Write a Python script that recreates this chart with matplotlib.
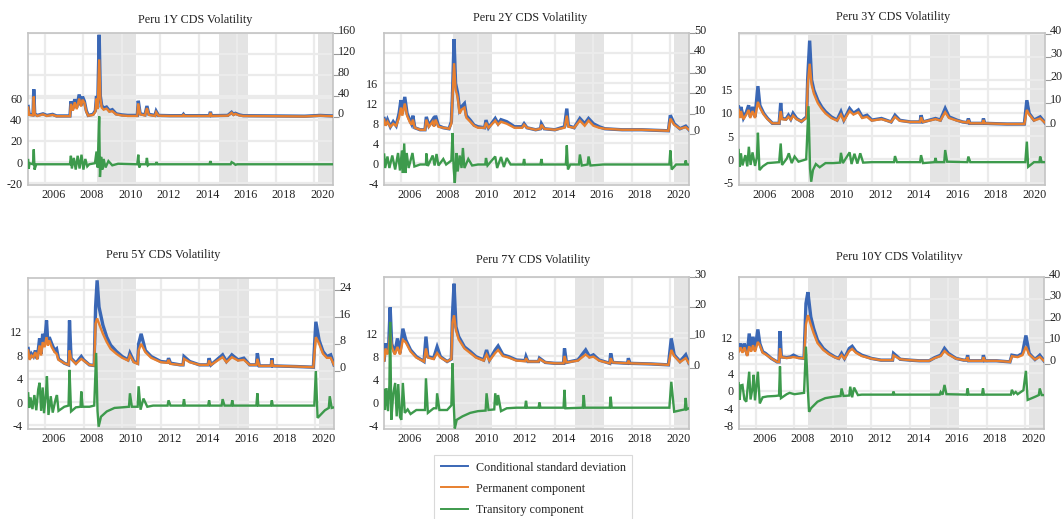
import matplotlib
matplotlib.use('Agg')
import matplotlib.pyplot as plt
from matplotlib.transforms import blended_transform_factory
from matplotlib.lines import Line2D

plt.rcParams['font.family'] = ['Liberation Serif', 'DejaVu Serif']
plt.rcParams['axes.unicode_minus'] = False

# ---------------- data ----------------
TITLES = ['Peru 1Y CDS Volatility', 'Peru 2Y CDS Volatility', 'Peru 3Y CDS Volatility',
          'Peru 5Y CDS Volatility', 'Peru 7Y CDS Volatility', 'Peru 10Y CDS Volatilityv']
SERIES = ['Conditional standard deviation', 'Permanent component', 'Transitory component']
YEAR_LABELS = [2006, 2008, 2010, 2012, 2014, 2016, 2018, 2020]
SHADES = [(2008.68, 2010.71), (2015.02, 2016.55), (2020.18, 2021.5)]
XLIM = (2005.12, 2020.97)

# (time, conditional sd, permanent component) -> right axis
P1_BO = [(2005.13, 20, 18), (2005.18, 5, 4), (2005.38, 4, 3), (2005.42, 53, 39), (2005.47, 6, 5),
         (2005.6, 3, 2), (2005.9, 6, 5), (2006.1, 3, 2), (2006.4, 5, 4), (2006.6, 2, 1.5),
         (2007.3, 2, 1.5), (2007.35, 30, 25), (2007.45, 15, 12), (2007.55, 34, 28), (2007.65, 18, 15),
         (2007.78, 43, 35), (2007.88, 22, 20), (2007.95, 39, 33), (2008.05, 30, 27), (2008.15, 12, 10),
         (2008.25, 3, 2.5), (2008.5, 5, 4), (2008.62, 12, 10), (2008.68, 40, 35), (2008.74, 18, 15),
         (2008.82, 157, 110), (2008.88, 40, 35), (2008.95, 22, 18), (2009.05, 17, 14), (2009.2, 19, 16),
         (2009.35, 12, 10), (2009.5, 14, 11), (2009.7, 6, 5), (2010.0, 4, 3), (2010.3, 3, 2),
         (2010.8, 3, 2), (2010.85, 31, 26), (2010.95, 6, 5), (2011.2, 4, 3), (2011.3, 21, 17),
         (2011.4, 5, 4), (2011.72, 3, 2), (2011.78, 11, 9), (2011.9, 3, 2.5), (2012.5, 2.5, 2),
         (2013.15, 2.5, 2), (2013.2, 5, 4), (2013.25, 2.5, 2), (2014.55, 2.5, 2), (2014.6, 10, 8),
         (2014.65, 2.5, 2), (2015.5, 3, 2.5), (2015.6, 6, 5), (2015.7, 9, 8), (2015.8, 5, 4),
         (2015.9, 7, 6), (2016.1, 4, 3), (2016.3, 2.5, 2), (2018.0, 2, 1.5), (2019.5, 1.5, 1),
         (2020.3, 3, 2.5), (2020.6, 2.5, 2), (2020.97, 2, 1.5)]
# (time, transitory component) -> left axis
P1_TR = [(2005.13, 2), (2005.16, -6), (2005.2, -1), (2005.38, -2), (2005.42, 12), (2005.46, -7),
         (2005.55, -2), (2007.3, -2), (2007.35, 6), (2007.4, -6), (2007.5, 4), (2007.6, -7),
         (2007.7, 6), (2007.8, -6), (2007.9, 7), (2008.0, -7), (2008.1, 3), (2008.2, -4),
         (2008.3, -2), (2008.6, -1), (2008.68, 10), (2008.74, -5), (2008.82, 43), (2008.86, -14),
         (2008.92, 5), (2008.98, -7), (2009.05, 3), (2009.15, -5), (2009.3, 1), (2009.5, -3),
         (2009.8, -1.5), (2010.8, -2), (2010.85, 7), (2010.9, -5), (2010.97, -2), (2011.25, -2),
         (2011.3, 4), (2011.35, -3), (2011.42, -2), (2011.75, -2), (2011.8, 0), (2011.85, -2),
         (2014.55, -2), (2014.6, 1), (2014.65, -2), (2015.65, -2), (2015.7, 0), (2015.8, -1),
         (2015.9, -2.5), (2016.0, -2), (2020.97, -2)]

P2_BO = [(2005.13, 7.6, 7), (2005.2, 4.3, 4), (2005.3, 7, 6), (2005.45, 3.5, 3.5), (2005.6, 6, 5),
         (2005.75, 4, 4), (2005.9, 10, 8), (2006.0, 16.7, 13), (2006.07, 10, 9), (2006.2, 18.3, 15),
         (2006.32, 10, 9), (2006.45, 7, 6), (2006.55, 5, 4.5), (2006.62, 9, 7), (2006.72, 3, 3),
         (2007.0, 2, 2), (2007.25, 2, 2), (2007.32, 8.4, 7), (2007.45, 4, 3.5), (2007.65, 7, 6),
         (2007.72, 4, 3.5), (2007.8, 9, 7), (2007.95, 4, 3.5), (2008.2, 3, 3), (2008.5, 2.5, 2.5),
         (2008.62, 6, 5), (2008.68, 20, 18), (2008.76, 47, 35), (2008.84, 25, 22), (2008.95, 20, 18),
         (2009.05, 11.7, 10), (2009.15, 13.4, 12), (2009.3, 15, 13), (2009.4, 9, 8), (2009.6, 6.8, 6),
         (2009.8, 4.3, 4), (2010.0, 3.5, 3), (2010.35, 3, 3), (2010.42, 6.8, 5.5), (2010.55, 3, 3),
         (2010.9, 7.6, 6.5), (2011.05, 5, 4.5), (2011.2, 7, 6), (2011.5, 6, 5), (2011.9, 3.5, 3),
         (2012.3, 3.5, 3), (2012.4, 5, 4.5), (2012.55, 3, 3), (2013.0, 2, 2), (2013.25, 2.5, 2.5),
         (2013.3, 5, 4.5), (2013.45, 2.5, 2.5), (2014.0, 2, 2), (2014.5, 3.5, 3), (2014.62, 12.5, 9),
         (2014.7, 4, 3.5), (2015.0, 3, 3), (2015.3, 7.6, 6.5), (2015.55, 5, 4), (2015.75, 7.6, 6.5),
         (2016.0, 5, 4), (2016.3, 3.5, 3), (2016.6, 2.5, 2.5), (2017.5, 2, 2), (2018.5, 2, 2),
         (2019.9, 1.5, 1.5), (2020.0, 9.2, 7.5), (2020.2, 5, 4.5), (2020.5, 2.5, 2.5),
         (2020.8, 3.8, 3.3), (2020.97, 2, 2)]
P2_TR = [(2005.13, 1.7), (2005.18, -1), (2005.3, 1.3), (2005.4, -1), (2005.55, 1.5), (2005.7, -1.3),
         (2005.85, 2), (2005.95, -1.5), (2006.05, 2.5), (2006.1, -2), (2006.17, 3.9), (2006.23, -2),
         (2006.3, 2), (2006.4, -1), (2006.6, 2), (2006.7, -0.7), (2007.0, -0.3), (2007.3, -0.3),
         (2007.32, 1.9), (2007.4, -0.6), (2007.65, 1.5), (2007.75, -0.5), (2007.85, 1.8),
         (2007.95, -0.5), (2008.2, 0.8), (2008.35, -0.3), (2008.62, 0.5), (2008.68, 6), (2008.74, -1),
         (2008.8, -4), (2008.88, 2), (2008.95, -1.7), (2009.05, 1.5), (2009.15, -1), (2009.22, 3),
         (2009.3, -1), (2009.5, 0.8), (2009.7, -0.5), (2010.0, -0.3), (2010.38, -0.3), (2010.42, 1),
         (2010.5, -0.5), (2010.9, 1.3), (2011.0, -1), (2011.2, 1.2), (2011.35, -0.8), (2011.5, 1),
         (2011.7, -0.3), (2012.35, -0.3), (2012.4, 0.8), (2012.45, -0.3), (2013.25, -0.3),
         (2013.3, 0.8), (2013.35, -0.3), (2014.57, -0.3), (2014.62, 3.5), (2014.68, -1.3),
         (2014.8, -0.3), (2015.25, -0.3), (2015.3, 1.7), (2015.4, -0.5), (2015.7, -0.3),
         (2015.75, 1.3), (2015.85, -0.5), (2016.5, -0.3), (2019.95, -0.3), (2020.0, 2.5),
         (2020.07, -1.3), (2020.3, -0.3), (2020.75, -0.3), (2020.8, 0.5), (2020.85, -0.3),
         (2020.97, -0.3)]

P3_BO = [(2005.1, 8.3, 7), (2005.18, 4, 3.5), (2005.22, 8.3, 6.5), (2005.35, 3.5, 3), (2005.5, 6, 5),
         (2005.62, 9, 7), (2005.7, 4, 3.5), (2005.82, 8.3, 6.5), (2005.95, 4, 3.5), (2006.1, 17.3, 10.5),
         (2006.2, 9, 8), (2006.4, 5.5, 5), (2006.6, 3.3, 3), (2006.85, 1.2, 1.2), (2007.2, 1.2, 1.2),
         (2007.28, 10, 6.5), (2007.35, 3.3, 3), (2007.55, 3, 2.8), (2007.68, 4.7, 4), (2007.8, 3, 2.8),
         (2007.92, 5.5, 4.5), (2008.1, 3.3, 3), (2008.35, 2, 2), (2008.62, 4, 3.5), (2008.68, 21, 18),
         (2008.78, 37, 27), (2008.88, 20, 18), (2009.0, 15.5, 14), (2009.2, 11.2, 10), (2009.4, 8.3, 7.5),
         (2009.6, 6.2, 5.5), (2009.9, 4, 3.5), (2010.2, 2.6, 2.4), (2010.4, 6.2, 5), (2010.55, 2.6, 2.4),
         (2010.85, 7.6, 6.5), (2011.05, 5.5, 5), (2011.3, 7, 6), (2011.5, 4, 3.5), (2011.75, 4.7, 4),
         (2012.0, 2.6, 2.4), (2012.5, 3.3, 3), (2013.0, 1.8, 1.8), (2013.2, 4.7, 4), (2013.45, 2.5, 2.3),
         (2014.0, 1.8, 1.8), (2014.5, 1.8, 1.8), (2014.55, 4.7, 3.8), (2014.65, 1.8, 1.8),
         (2015.3, 3.3, 3), (2015.55, 2.6, 2.4), (2015.8, 7.6, 6), (2016.0, 4, 3.5), (2016.4, 2.6, 2.4),
         (2016.7, 1.8, 1.8), (2016.95, 1.5, 1.5), (2017.0, 3.3, 2.6), (2017.08, 1.2, 1.2),
         (2017.74, 1.2, 1.2), (2017.78, 3.3, 2.6), (2017.85, 1.2, 1.2), (2019.0, 0.9, 0.9),
         (2019.9, 0.9, 0.9), (2020.03, 11.2, 7), (2020.15, 5.5, 5), (2020.4, 2.6, 2.4),
         (2020.72, 4, 3.3), (2020.97, 1.5, 1.5)]
P3_TR = [(2005.1, 2), (2005.15, -1.6), (2005.22, 1.3), (2005.3, -1.3), (2005.45, 0.9), (2005.55, -1.5),
         (2005.63, 2.7), (2005.72, -1.2), (2005.82, 1.5), (2005.95, -1.4), (2006.05, 0.5), (2006.1, 5.7),
         (2006.18, -2.3), (2006.35, -1.5), (2006.6, -0.8), (2007.2, -0.6), (2007.28, 3.4), (2007.35, -1.2),
         (2007.6, 0.2), (2007.7, 1.3), (2007.85, -0.8), (2008.0, 0.6), (2008.2, -0.5), (2008.6, 0),
         (2008.72, 11.4), (2008.8, -2), (2008.86, -4.8), (2008.95, -2.3), (2009.1, -1), (2009.3, -1.7),
         (2009.6, -0.8), (2010.0, -0.8), (2010.35, -0.7), (2010.4, 1.4), (2010.5, -0.8), (2010.85, 1.5),
         (2010.95, -1), (2011.1, 1.2), (2011.25, -0.9), (2011.4, 1.3), (2011.55, -0.7), (2012.0, -0.6),
         (2013.15, -0.6), (2013.2, 0.7), (2013.3, -0.6), (2014.5, -0.6), (2014.55, 0.9),
         (2014.65, -0.8), (2015.25, -0.6), (2015.3, 0.3), (2015.35, -0.6), (2015.75, -0.6),
         (2015.8, 2), (2015.9, -0.5), (2016.95, -0.6), (2017.0, 0.6), (2017.1, -0.6), (2019.95, -0.6),
         (2020.03, 3.8), (2020.1, -1.6), (2020.4, -0.6), (2020.68, -0.6), (2020.72, 0.6),
         (2020.8, -0.6), (2020.97, -0.6)]

P4_BO = [(2005.13, 6.6, 6), (2005.2, 3.5, 3.2), (2005.3, 5, 4.5), (2005.4, 4.2, 4), (2005.5, 6, 5.5),
         (2005.6, 3.5, 3.3), (2005.72, 9.6, 7.5), (2005.8, 5, 4.5), (2005.88, 11, 8.5), (2005.98, 8, 7),
         (2006.08, 15, 10), (2006.15, 8, 7.5), (2006.22, 10, 9), (2006.35, 8, 7), (2006.5, 6, 5.5),
         (2006.6, 6.5, 5), (2006.7, 3.5, 3.2), (2007.0, 2.2, 2.2), (2007.22, 1.7, 1.7), (2007.27, 15, 6),
         (2007.35, 3.7, 3.5), (2007.6, 2.2, 2), (2007.88, 4.2, 3.5), (2008.0, 3.2, 3), (2008.3, 1.7, 1.7),
         (2008.55, 1.5, 1.5), (2008.62, 19, 14), (2008.7, 27, 15.6), (2008.8, 19, 14), (2009.0, 13.6, 11),
         (2009.2, 10, 8.5), (2009.4, 7.6, 6.5), (2009.7, 5.7, 5), (2010.0, 4.2, 3.8), (2010.3, 3.2, 3),
         (2010.4, 5.2, 4.5), (2010.6, 2.7, 2.5), (2010.8, 2.2, 2), (2010.85, 8, 6), (2010.98, 11, 8),
         (2011.2, 6, 5.5), (2011.5, 4.2, 3.8), (2012.0, 2.7, 2.5), (2012.35, 2.5, 2.3), (2012.4, 3.7, 3.2),
         (2012.5, 2.2, 2), (2013.0, 1.7, 1.7), (2013.15, 1.7, 1.7), (2013.2, 4.2, 3.5), (2013.5, 2.7, 2.5),
         (2014.0, 1.7, 1.7), (2014.45, 1.7, 1.7), (2014.5, 3.7, 3), (2014.6, 1.7, 1.7), (2015.2, 4.7, 4),
         (2015.4, 2.7, 2.5), (2015.68, 4.7, 4), (2016.0, 3.2, 3), (2016.3, 3.7, 3.2), (2016.6, 1.7, 1.7),
         (2016.95, 1.7, 1.7), (2017.0, 5.2, 3.5), (2017.1, 1.4, 1.4), (2017.72, 1.4, 1.4),
         (2017.75, 3.7, 3), (2017.8, 1.4, 1.4), (2019.0, 1.2, 1.2), (2019.9, 1, 1), (2020.03, 14.6, 10),
         (2020.2, 9, 8), (2020.4, 5.7, 5), (2020.6, 4.2, 3.8), (2020.8, 4.7, 3.8), (2020.97, 1.7, 1.7)]
P4_TR = [(2005.13, 1.5), (2005.18, -1), (2005.25, 0.8), (2005.35, -1.2), (2005.45, 1.2), (2005.55, -1.4),
         (2005.65, 2.2), (2005.72, 3.3), (2005.8, -1.5), (2005.88, 2.5), (2005.95, -1.9), (2006.05, 1.5),
         (2006.1, 4.4), (2006.18, -2.2), (2006.3, 1), (2006.4, -1.8), (2006.55, 0.5), (2006.62, 1.2),
         (2006.7, -1.5), (2007.0, -0.8), (2007.22, -0.6), (2007.27, 5.5), (2007.35, -1.6), (2007.6, -0.9),
         (2007.84, -0.8), (2007.88, 1.8), (2007.95, -0.8), (2008.3, -0.8), (2008.55, -0.6), (2008.65, 8.4),
         (2008.72, -1.5), (2008.78, -4.2), (2008.9, -2.5), (2009.2, -1.6), (2009.6, -1), (2010.0, -0.9),
         (2010.35, -0.8), (2010.4, 1.5), (2010.5, -0.8), (2010.8, -0.8), (2010.85, 2.7), (2010.95, -1.3),
         (2011.1, 0.6), (2011.3, -0.8), (2011.6, -0.6), (2012.35, -0.6), (2012.4, 0.3), (2012.5, -0.6),
         (2013.15, -0.6), (2013.2, 0.5), (2013.25, -0.6), (2014.45, -0.6), (2014.5, 0.3), (2014.55, -0.6),
         (2015.15, -0.6), (2015.2, 0.5), (2015.3, -0.6), (2015.65, -0.6), (2015.7, 0.3), (2015.75, -0.6),
         (2016.95, -0.6), (2017.0, 1.5), (2017.05, -0.6), (2017.7, -0.6), (2017.75, 0.3), (2017.8, -0.6),
         (2019.95, -0.6), (2020.03, 5.3), (2020.12, -2.7), (2020.5, -1.4), (2020.7, -1), (2020.75, 1),
         (2020.85, -1), (2020.97, -0.9)]

P5_BO = [(2005.13, 2.7, 2.5), (2005.2, 8.2, 6.5), (2005.3, 5, 4.5), (2005.36, 7, 6), (2005.44, 20, 11.5),
         (2005.52, 8, 7), (2005.68, 4.9, 4.5), (2005.82, 9.8, 7), (2005.95, 4.9, 4.5), (2006.1, 13, 9.3),
         (2006.25, 9.3, 8.5), (2006.5, 6, 5.5), (2006.8, 3.8, 3.5), (2007.2, 2.2, 2.2), (2007.3, 10.4, 6.5),
         (2007.4, 3.8, 3.5), (2007.7, 3.3, 3), (2007.88, 7, 5), (2008.05, 3.8, 3.5), (2008.4, 2.2, 2.2),
         (2008.62, 3, 3), (2008.68, 18, 15), (2008.76, 27.8, 17.4), (2008.86, 13.6, 12.5),
         (2009.0, 10.4, 9.5), (2009.3, 7, 6.5), (2009.6, 5.5, 5), (2009.9, 3.8, 3.5), (2010.3, 2.7, 2.5),
         (2010.45, 6, 4.5), (2010.6, 2.7, 2.5), (2010.9, 6, 5), (2011.05, 7.3, 6), (2011.3, 4.4, 4),
         (2011.6, 3.8, 3.5), (2012.0, 2.7, 2.5), (2012.45, 2.5, 2.3), (2012.5, 3.8, 3.3), (2012.6, 2.2, 2.2),
         (2013.15, 2.2, 2.2), (2013.2, 3.3, 3), (2013.5, 1.9, 1.9), (2014.0, 1.6, 1.6), (2014.45, 1.6, 1.6),
         (2014.5, 6.5, 4), (2014.6, 1.9, 1.9), (2015.2, 2.7, 2.5), (2015.6, 6, 4.5), (2015.8, 3.8, 3.5),
         (2016.0, 4.4, 3.8), (2016.3, 2.7, 2.5), (2016.85, 1.6, 1.6), (2016.9, 4.9, 3.3), (2017.0, 1.9, 1.9),
         (2017.78, 1.6, 1.6), (2017.82, 3.3, 2.5), (2017.9, 1.6, 1.6), (2019.0, 1.4, 1.4),
         (2019.9, 1.1, 1.1), (2020.05, 9.8, 6), (2020.2, 4.4, 4), (2020.5, 2.2, 2), (2020.8, 4.4, 3.3),
         (2020.97, 1.6, 1.6)]
P5_TR = [(2005.13, 2.2), (2005.17, -1.3), (2005.25, 2.5), (2005.33, -1.5), (2005.4, 3), (2005.44, 14),
         (2005.5, -3), (2005.6, 1.5), (2005.7, 3.4), (2005.78, -2.4), (2005.86, 3.2), (2005.95, -2.5),
         (2006.02, -3), (2006.1, 3.4), (2006.2, -1.8), (2006.35, -1.2), (2006.5, -2), (2006.8, -1.3),
         (2007.25, -1.3), (2007.3, 4.2), (2007.4, -1.8), (2007.7, -1), (2007.84, -1), (2007.88, 1.6),
         (2008.0, -1.3), (2008.4, -1.3), (2008.62, -0.5), (2008.68, 6.8), (2008.74, 0), (2008.8, -4.5),
         (2008.9, -3), (2009.2, -2.4), (2009.6, -1.8), (2010.0, -1.5), (2010.4, -1.4), (2010.45, 1.6),
         (2010.55, -1.3), (2010.85, -1.2), (2010.9, 1.6), (2011.0, -0.5), (2011.05, 1.3), (2011.2, -1.5),
         (2011.5, -1), (2012.0, -0.9), (2012.45, -0.9), (2012.5, 0.3), (2012.55, -0.9), (2013.15, -0.9),
         (2013.2, 0), (2013.25, -0.9), (2014.45, -0.9), (2014.5, 2.2), (2014.55, -1), (2015.45, -0.9),
         (2015.5, 1.3), (2015.55, -0.9), (2016.85, -0.9), (2016.9, 1), (2016.95, -0.9), (2019.95, -0.9),
         (2020.05, 3.6), (2020.2, -1.6), (2020.6, -1.3), (2020.75, -1.2), (2020.8, 0.8), (2020.85, -1.2),
         (2020.97, -1)]

P6_BO = [(2005.1, 6.2, 5.5), (2005.2, 9.3, 7.5), (2005.3, 5.5, 5), (2005.4, 9.3, 7.5), (2005.55, 3.9, 3.5),
         (2005.65, 13.9, 8), (2005.75, 6.2, 5.5), (2005.85, 12.4, 8.5), (2005.95, 6.2, 5.5), (2006.1, 15.8, 10),
         (2006.2, 9.3, 8.5), (2006.35, 5.5, 5), (2006.5, 4.7, 4.3), (2006.8, 2.4, 2.4), (2007.1, 0.8, 0.8),
         (2007.2, 0.8, 0.8), (2007.25, 15, 7), (2007.32, 3.1, 3), (2007.6, 2.8, 2.6), (2007.8, 3.1, 2.8),
         (2007.95, 3.9, 3), (2008.2, 2.8, 2.6), (2008.5, 2.4, 2.4), (2008.6, 27.8, 18), (2008.7, 33, 22.4),
         (2008.85, 21.6, 18), (2009.0, 16.2, 14), (2009.2, 10.8, 9.5), (2009.5, 7, 6.3), (2009.8, 4.7, 4.3),
         (2010.1, 3.1, 2.9), (2010.3, 2.4, 2.3), (2010.45, 4.7, 3.9), (2010.6, 2.4, 2.3), (2010.85, 7, 5.8),
         (2011.0, 8, 6.8), (2011.2, 5.5, 5), (2011.5, 3.9, 3.5), (2012.0, 2.4, 2.3), (2012.5, 1.6, 1.6),
         (2013.1, 1.6, 1.6), (2013.15, 4.7, 3.8), (2013.5, 2, 2), (2014.0, 1.6, 1.6), (2014.5, 1.3, 1.3),
         (2015.0, 1.3, 1.3), (2015.3, 2.8, 2.6), (2015.6, 3.9, 3.5), (2015.8, 7, 5.8), (2016.0, 4.7, 4.2),
         (2016.4, 2.4, 2.3), (2016.8, 1.6, 1.6), (2016.95, 1.6, 1.6), (2017.0, 3.9, 3), (2017.05, 1.3, 1.3),
         (2017.78, 1.3, 1.3), (2017.82, 3.9, 3), (2017.9, 1.3, 1.3), (2018.5, 1.3, 1.3), (2019.2, 0.8, 0.8),
         (2019.3, 3.9, 3.4), (2019.6, 3.4, 3), (2019.85, 4.7, 3.9), (2020.03, 13, 7.8), (2020.2, 4.7, 4.2),
         (2020.5, 1.9, 1.9), (2020.75, 3.9, 3.1), (2020.97, 1.3, 1.3)]
P6_TR = [(2005.1, 1.7), (2005.15, -2.1), (2005.22, 1.2), (2005.3, 1.3), (2005.4, -2), (2005.5, -2.5),
         (2005.65, 4.3), (2005.72, -2), (2005.82, 0.5), (2005.88, 3.6), (2005.95, -2.2), (2006.1, 4.3),
         (2006.2, -2.9), (2006.35, -1.5), (2006.6, -1.3), (2007.0, -1.2), (2007.2, -1.1), (2007.25, 5.5),
         (2007.3, -1.7), (2007.6, -0.8), (2007.75, -0.5), (2008.0, -0.8), (2008.5, -0.5), (2008.6, 10),
         (2008.7, 0), (2008.76, -4.8), (2008.86, -4), (2009.2, -2.5), (2009.6, -1.7), (2010.0, -1.4),
         (2010.4, -1.2), (2010.45, 0.5), (2010.55, -1.2), (2010.85, -1.1), (2010.9, 0.9), (2011.0, -1.5),
         (2011.1, 0.7), (2011.3, -1), (2011.5, -0.9), (2013.1, -0.9), (2013.15, -0.2), (2013.2, -0.9),
         (2015.55, -0.9), (2015.6, -0.3), (2015.7, -0.9), (2015.8, 1.3), (2015.9, -0.8), (2016.95, -0.9),
         (2017.0, 0.5), (2017.05, -0.9), (2017.75, -0.9), (2017.8, 0.5), (2017.85, -0.9), (2019.25, -0.9),
         (2019.3, 0.2), (2019.4, -0.7), (2019.5, -0.3), (2019.6, -0.8), (2019.9, 0.1), (2020.03, 4.5),
         (2020.12, -2.1), (2020.5, -1.4), (2020.7, -1), (2020.75, 0.5), (2020.85, -1), (2020.97, -1)]

BO_DATA = [P1_BO, P2_BO, P3_BO, P4_BO, P5_BO, P6_BO]
TR_DATA = [P1_TR, P2_TR, P3_TR, P4_TR, P5_TR, P6_TR]
LEFT_TICKS = [[-20, 0, 20, 40, 60], [-4, 0, 4, 8, 12, 16], [-5, 0, 5, 10, 15],
              [-4, 0, 4, 8, 12], [-4, 0, 4, 8, 12], [-8, -4, 0, 4, 8, 12]]
RIGHT_TICKS = [[0, 40, 80, 120, 160], [0, 10, 20, 30, 40, 50], [0, 10, 20, 30, 40],
               [0, 8, 16, 24], [0, 10, 20, 30], [0, 10, 20, 30, 40]]

# ---------------- layout / style ----------------
LEFT_LIM = [(-21.5, 121.5), (-4.4, 26.0), (-5.5, 27.1), (-4.6, 21.2), (-4.6, 21.8), (-8.7, 25.8)]
RIGHT_LIM = [(-130, 160.5), (-25.4, 49.7), (-25.5, 40.3), (-17.5, 27.7), (-20.0, 30.0), (-30.2, 39.9)]
BOXES = [(28, 33, 333, 185), (384, 33, 689, 185), (739, 33, 1045, 185),
         (28, 278, 334, 429), (384, 277, 689, 429), (739, 277, 1044, 429)]
TITLE_POS = [(195, 20), (530, 18), (893, 17), (163, 255), (533, 260), (899, 257)]

W, H = 1063, 519
C_BLUE, C_ORANGE, C_GREEN = '#3a67b5', '#e8802f', '#3d9a4c'
GRID = '#ebebeb'
SHADE = '#e4e4e4'
SPINE = '#c4c4c4'
TXT = '#222222'
FS = 8.7

fig = plt.figure(figsize=(W / 100, H / 100), dpi=100)

for i in range(6):
    x0, y0, x1, y1 = BOXES[i]
    rect = [x0 / W, 1 - y1 / H, (x1 - x0) / W, (y1 - y0) / H]
    base = fig.add_axes(rect)              # right scale: cond. sd & permanent
    top = fig.add_axes(rect, sharex=base)  # left scale: transitory
    top.patch.set_visible(False)

    base.set_xlim(*XLIM)
    base.set_ylim(*RIGHT_LIM[i])
    top.set_ylim(*LEFT_LIM[i])

    for a, b in SHADES:
        base.axvspan(a, b, color=SHADE, lw=0, zorder=0.5)
    for yr in YEAR_LABELS:
        base.axvline(yr, color=GRID, lw=1.6, zorder=1)
    for v in RIGHT_TICKS[i]:
        base.axhline(v, color=GRID, lw=1.6, zorder=1)
    tr_left = blended_transform_factory(base.transAxes, top.transData)
    for v in LEFT_TICKS[i]:
        base.plot([0, 1], [v, v], transform=tr_left, color=GRID, lw=1.6, zorder=1)

    t_bo = [p[0] for p in BO_DATA[i]]
    csd = [p[1] for p in BO_DATA[i]]
    perm = [p[2] for p in BO_DATA[i]]
    base.plot(t_bo, csd, color=C_BLUE, lw=2.4, zorder=3, solid_joinstyle='miter')
    base.plot(t_bo, perm, color=C_ORANGE, lw=1.7, zorder=4, solid_joinstyle='miter')
    t_tr = [p[0] for p in TR_DATA[i]]
    trn = [p[1] for p in TR_DATA[i]]
    top.plot(t_tr, trn, color=C_GREEN, lw=1.7, zorder=3, solid_joinstyle='miter')

    # x axis
    base.set_xticks([y + 0.43 for y in YEAR_LABELS])
    base.set_xticklabels([str(y) for y in YEAR_LABELS])
    base.tick_params(axis='x', length=0, pad=3, labelsize=FS, labelcolor=TXT)
    top.tick_params(axis='x', length=0, labelbottom=False)

    # right axis ticks (labels drawn slightly above each tick mark)
    base.yaxis.tick_right()
    base.set_yticks(RIGHT_TICKS[i])
    base.tick_params(axis='y', which='both', right=True, left=False, labelright=False,
                     length=4, width=0.8, color='#999999', direction='out')
    tr_right = blended_transform_factory(base.transAxes, base.transData)
    for v in RIGHT_TICKS[i]:
        base.annotate(str(v), xy=(1, v), xycoords=tr_right, xytext=(5, 2.5),
                      textcoords='offset pixels', ha='left', va='center',
                      fontsize=FS, color=TXT, annotation_clip=False)

    # left axis
    top.yaxis.tick_left()
    top.set_yticks(LEFT_TICKS[i])
    top.tick_params(axis='y', length=0, pad=4, labelsize=FS, labelcolor=TXT, right=False)

    for s in base.spines.values():
        s.set_color(SPINE)
        s.set_linewidth(1.2)
    for s in top.spines.values():
        s.set_visible(False)

    tx, ty = TITLE_POS[i]
    fig.text(tx / W, 1 - ty / H, TITLES[i], ha='center', va='center', fontsize=FS, color=TXT)

handles = [Line2D([], [], color=C_BLUE, lw=1.4),
           Line2D([], [], color=C_ORANGE, lw=1.4),
           Line2D([], [], color=C_GREEN, lw=1.4)]
leg = fig.legend(handles, SERIES, loc='upper left', bbox_to_anchor=(434 / W, 1 - 455 / H),
                 frameon=True, fancybox=False, edgecolor='#d0d0d0', fontsize=FS,
                 handlelength=2.3, handletextpad=0.6, labelspacing=0.75, borderpad=0.55,
                 borderaxespad=0)
leg.get_frame().set_linewidth(0.8)
for t in leg.get_texts():
    t.set_color(TXT)

fig.savefig('out.png', dpi=100)
